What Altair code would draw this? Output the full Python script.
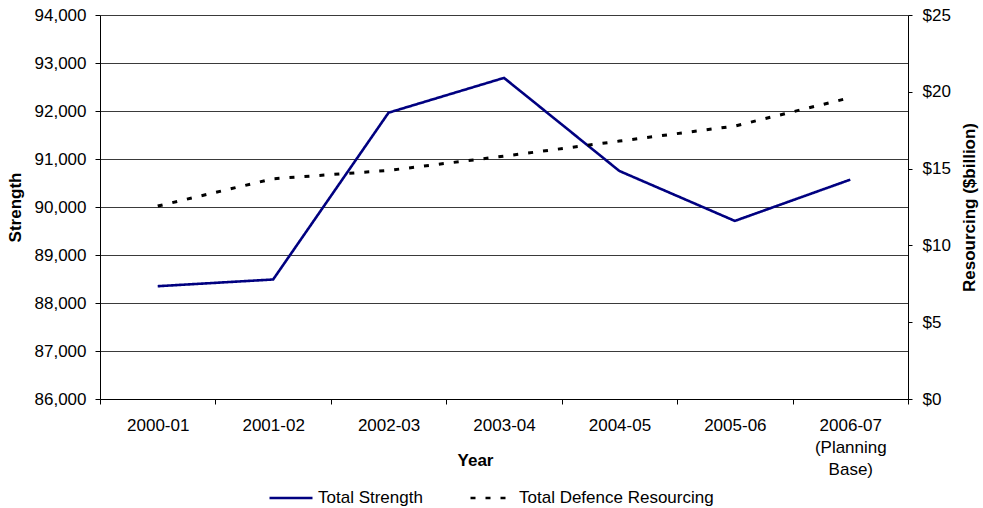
import altair as alt
import pandas as pd

# Financial years shown on the x axis
years = ["2000-01", "2001-02", "2002-03", "2003-04", "2004-05", "2005-06", "2006-07"]

# Total personnel strength (left axis)
strength = [88350, 88490, 91965, 92690, 90750, 89710, 90570]

# Total defence resourcing in $billion (right axis)
resourcing = [12.56, 14.34, 14.88, 15.81, 16.79, 17.77, 19.62]

series_names = ["Total Strength", "Total Defence Resourcing"]
series_colors = ["#000080", "#000000"]
series_dashes = [[1, 0], [5, 10]]

strength_ticks = list(range(86000, 94001, 1000))
resourcing_ticks = [0, 5, 10, 15, 20, 25]

df_strength = pd.DataFrame({"year": years, "value": strength, "series": series_names[0]})
df_resourcing = pd.DataFrame({"year": years, "value": resourcing, "series": series_names[1]})

FONT = "Liberation Sans"

legend_def = alt.Legend(
    title=None,
    orient="none",
    direction="horizontal",
    legendX=168,
    legendY=460,
    padding=0,
    symbolType="stroke",
    symbolSize=1849,
    symbolStrokeWidth=2.5,
    labelFont=FONT,
    labelFontSize=17,
    labelColor="#000000",
    labelOffset=4,
    labelLimit=400,
    columnPadding=42,
)

color = alt.Color(
    "series:N",
    scale=alt.Scale(domain=series_names, range=series_colors),
    legend=legend_def,
)
dash = alt.StrokeDash(
    "series:N",
    scale=alt.Scale(domain=series_names, range=series_dashes),
    legend=legend_def,
)

x_enc = alt.X(
    "year:N",
    sort=years,
    bandPosition=0.5,
    scale=alt.Scale(type="band", domain=years, paddingInner=0, paddingOuter=0),
    axis=alt.Axis(
        title="Year",
        labelAngle=0,
        grid=False,
        tickBand="extent",
        tickSize=5,
        labelPadding=13,
        labelBaseline="top",
        labelLineHeight=22,
        labelExpr="datum.value == '2006-07' ? ['2006-07', '(Planning', 'Base)'] : datum.value",
        titleX=375,
        titleY=61,
        titleAlign="center",
        titleBaseline="middle",
    ),
)

strength_line = (
    alt.Chart(df_strength)
    .mark_line(strokeWidth=2.6, strokeCap="butt")
    .encode(
        x=x_enc,
        y=alt.Y(
            "value:Q",
            scale=alt.Scale(domain=[86000, 94000], nice=False, zero=False),
            axis=alt.Axis(
                title="Strength",
                values=strength_ticks,
                format=",.0f",
                grid=True,
                gridColor="#3a3a3a",
                gridWidth=1,
                tickSize=5,
                labelPadding=9,
                titleX=-85,
                titleY=192,
                titleAngle=270,
                titleAlign="center",
                titleBaseline="middle",
            ),
        ),
        color=color,
        strokeDash=dash,
    )
)

resourcing_line = (
    alt.Chart(df_resourcing)
    .mark_line(strokeWidth=3, strokeCap="butt")
    .encode(
        x=x_enc,
        y=alt.Y(
            "value:Q",
            scale=alt.Scale(domain=[0, 25], nice=False),
            axis=alt.Axis(
                title="Resourcing ($billion)",
                orient="right",
                values=resourcing_ticks,
                labelExpr="'$' + datum.value",
                grid=False,
                tickSize=4,
                labelPadding=10,
                titleX=61,
                titleY=192,
                titleAngle=270,
                titleAlign="center",
                titleBaseline="middle",
            ),
        ),
        color=color,
        strokeDash=dash,
    )
)

chart = (
    alt.layer(strength_line, resourcing_line)
    .resolve_scale(y="independent")
    .properties(
        width=808,
        height=384,
        padding={"left": 100, "top": 15, "right": 75, "bottom": 109},
        autosize=alt.AutoSizeParams(type="none"),
        background="#ffffff",
    )
    .configure_view(stroke=None)
    .configure_axis(
        labelFont=FONT,
        labelFontSize=17,
        labelColor="#000000",
        titleFont=FONT,
        titleFontSize=17,
        titleFontWeight="bold",
        titleColor="#000000",
        domainColor="#000000",
        domainWidth=1,
        tickColor="#000000",
        tickWidth=1,
    )
)

chart.save("out.html", embed_options={"renderer": "svg", "actions": False})
